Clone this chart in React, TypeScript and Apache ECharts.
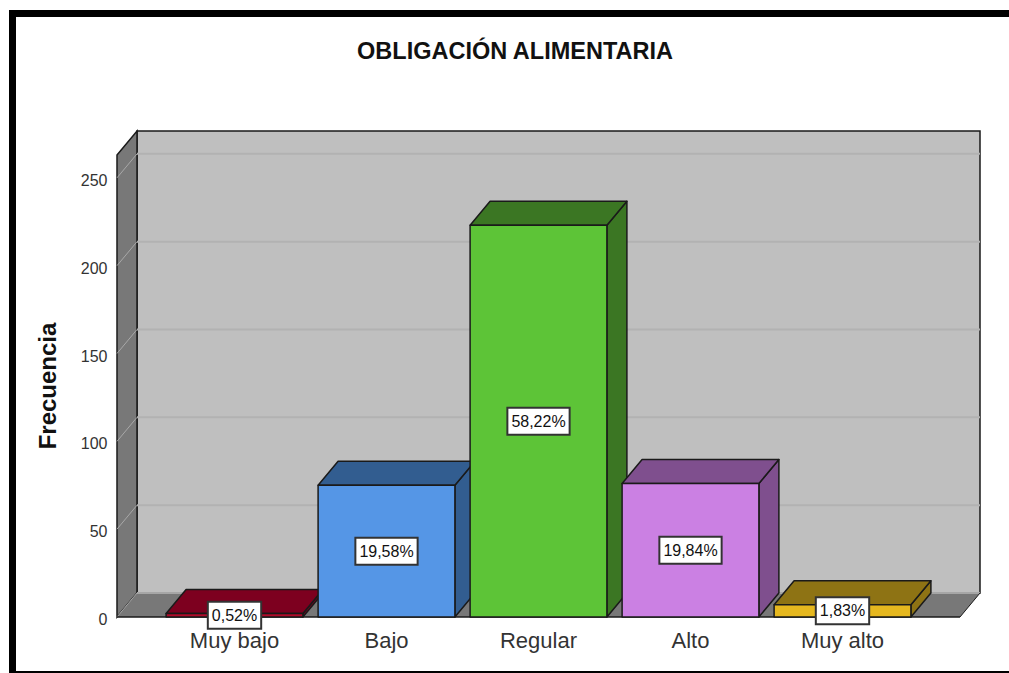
import React, { useEffect, useRef } from "react";
import * as echarts from "echarts";

const titleText = "OBLIGACIÓN ALIMENTARIA";
const yAxisName = "Frecuencia";
const categories = ["Muy bajo", "Bajo", "Regular", "Alto", "Muy alto"];
const counts = [2, 75, 223, 76, 7];
const percentLabels = ["0,52%", "19,58%", "58,22%", "19,84%", "1,83%"];
const frontColors = ["#b00a2a", "#5596e6", "#5dc437", "#cb80e3", "#e6b81f"];
const sideColors = ["#7d001f", "#325d90", "#3b7623", "#7f4f8e", "#8e7314"];
const yTicks = [0, 50, 100, 150, 200, 250];

const FONT = '"Liberation Sans", Arial, sans-serif';
const DX = 20;
const DY = -24;
const PAD = 41.5;
const EDGE = "#1a1a1a";

function renderWalls(params: any, api: any) {
  const cs = params.coordSys;
  const left = cs.x - PAD;
  const right = cs.x + cs.width + PAD;
  const top = cs.y;
  const bottom = cs.y + cs.height;
  const children: any[] = [
    {
      type: "rect",
      shape: { x: left + DX, y: top + DY, width: right - left, height: bottom - top },
      style: { fill: "#bfbfbf", stroke: EDGE, lineWidth: 1.5 },
    },
    {
      type: "polygon",
      shape: { points: [[left, top], [left + DX, top + DY], [left + DX, bottom + DY], [left, bottom]] },
      style: { fill: "#787878", stroke: EDGE, lineWidth: 1.5 },
    },
    {
      type: "polygon",
      shape: { points: [[left, bottom], [left + DX, bottom + DY], [right + DX, bottom + DY], [right, bottom]] },
      style: { fill: "#787878" },
    },
    {
      type: "line",
      shape: { x1: left + DX, y1: bottom + DY, x2: right + DX, y2: bottom + DY },
      style: { stroke: "#a6a6a6", lineWidth: 2 },
    },
    {
      type: "line",
      shape: { x1: right + DX, y1: bottom + DY, x2: right, y2: bottom },
      style: { stroke: EDGE, lineWidth: 1 },
    },
  ];
  yTicks.forEach((t) => {
    const y = api.coord([0, t])[1];
    if (t > 0) {
      children.push({
        type: "line",
        shape: { x1: left + DX, y1: y + DY, x2: right + DX, y2: y + DY },
        style: { stroke: "#b2b2b2", lineWidth: 2 },
      });
    }
    children.push({
      type: "line",
      shape: { x1: left, y1: y, x2: left + DX, y2: y + DY },
      style: { stroke: "#a8a8a8", lineWidth: 1 },
    });
  });
  children.push({
    type: "line",
    shape: { x1: left, y1: bottom, x2: right, y2: bottom },
    style: { stroke: EDGE, lineWidth: 1.5 },
  });
  return { type: "group", children };
}

function renderBar(params: any, api: any) {
  const i = api.value(0);
  const [cx, yTop] = api.coord([i, api.value(1)]);
  const yBase = api.coord([i, 0])[1];
  const w = api.size([1, 0])[0] * 0.9;
  const x0 = cx - w / 2;
  const x1 = cx + w / 2;
  const common = { stroke: EDGE, lineWidth: 1.5, lineJoin: "round" };
  return {
    type: "group",
    children: [
      {
        type: "polygon",
        shape: { points: [[x1, yTop], [x1 + DX, yTop + DY], [x1 + DX, yBase + DY], [x1, yBase]] },
        style: { fill: sideColors[i], ...common },
      },
      {
        type: "polygon",
        shape: { points: [[x0, yTop], [x0 + DX, yTop + DY], [x1 + DX, yTop + DY], [x1, yTop]] },
        style: { fill: sideColors[i], ...common },
      },
      {
        type: "rect",
        shape: { x: x0, y: yTop, width: w, height: yBase - yTop },
        style: { fill: frontColors[i], ...common },
      },
      {
        type: "text",
        x: cx,
        y: (yTop + yBase) / 2,
        z2: 20,
        style: {
          text: percentLabels[i],
          font: `16px ${FONT}`,
          fill: "#111111",
          align: "center",
          verticalAlign: "middle",
          backgroundColor: "#ffffff",
          borderColor: "#333333",
          borderWidth: 2,
          padding: [5, 3, 4, 3],
        },
      },
    ],
  };
}

export default function App() {
  const ref = useRef<HTMLDivElement>(null);

  useEffect(() => {
    const chart = echarts.init(ref.current!, null, { renderer: "svg" });
    chart.setOption({
      animation: false,
      backgroundColor: "#ffffff",
      title: {
        text: titleText,
        left: 510,
        top: 34,
        textAlign: "center",
        textStyle: { fontFamily: FONT, fontSize: 23.5, fontWeight: "bold", color: "#111111" },
      },
      grid: { left: 158.5, top: 155, width: 760, height: 462 },
      xAxis: {
        type: "category",
        data: categories,
        axisLine: { show: false },
        axisTick: { show: false },
        axisLabel: { fontFamily: FONT, fontSize: 22, color: "#333333", margin: 12 },
      },
      yAxis: {
        type: "value",
        min: 0,
        max: 263,
        interval: 50,
        name: yAxisName,
        nameLocation: "middle",
        nameRotate: 90,
        nameGap: 99,
        nameTextStyle: { fontFamily: FONT, fontSize: 24, fontWeight: "bold", color: "#111111" },
        axisLine: { show: false },
        axisTick: { show: false },
        splitLine: { show: false },
        axisLabel: {
          margin: 51,
          showMaxLabel: false,
          formatter: (v: number) => `{t|${v}}`,
          rich: {
            t: { fontFamily: FONT, fontSize: 16, color: "#333333", padding: [5, 0, 0, 0] },
          },
        },
      },
      graphic: [
        { type: "rect", shape: { x: 9, y: 10, width: 1000, height: 7 }, style: { fill: "#000000" } },
        { type: "rect", shape: { x: 9, y: 10, width: 7, height: 663 }, style: { fill: "#000000" } },
        { type: "rect", shape: { x: 9, y: 671, width: 1000, height: 2 }, style: { fill: "#000000" } },
      ],
      series: [
        { type: "custom", name: "walls", z: 1, data: [[0, 0]], renderItem: renderWalls, silent: true },
        {
          type: "custom",
          name: "Frecuencia",
          z: 2,
          data: counts.map((v, i) => [i, v]),
          encode: { x: 0, y: 1 },
          renderItem: renderBar,
        },
      ],
    });
    return () => chart.dispose();
  }, []);

  return <div ref={ref} style={{ position: "fixed", left: 0, top: 0, width: 1009, height: 673 }} />;
}
